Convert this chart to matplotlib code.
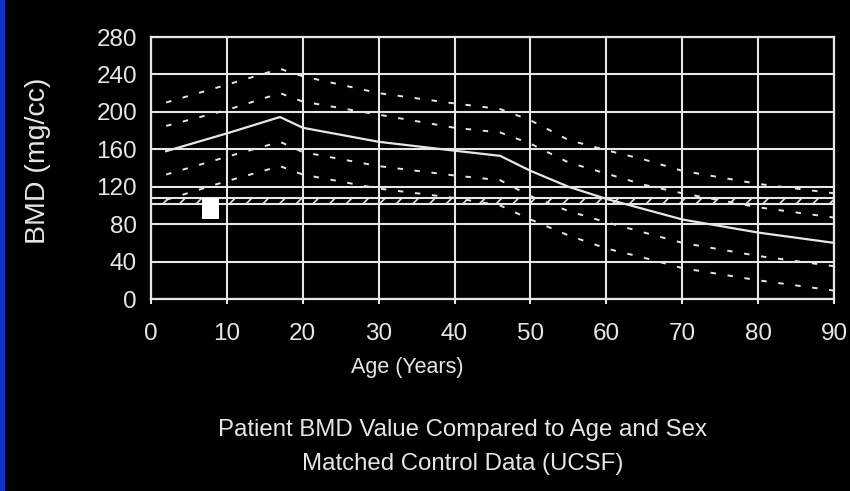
import matplotlib
matplotlib.use("Agg")
import matplotlib.pyplot as plt
from matplotlib.patches import Rectangle

# ---------------- data ----------------
ages = [2, 10, 17, 20, 30, 40, 46, 50, 55, 60, 65, 70, 80, 90]
bmd_mean = [158, 177, 194.5, 183, 168, 158.5, 153, 137, 120, 107, 96, 85, 71, 60]
bmd_plus1sd = [185, 202, 220, 211, 197, 183, 178, 166, 146, 134, 122, 113, 98, 87]
bmd_plus2sd = [210, 229, 246, 238, 220, 209, 203, 191, 170, 159, 149, 137, 123, 113]
bmd_minus1sd = [133, 152, 168, 157, 142, 132, 127, 110, 94, 82, 71, 60, 46, 35]
bmd_minus2sd = [106, 126, 142, 133, 118, 108, 100, 85, 68, 54, 44, 33, 20, 9]

threshold_band = [102, 108]          # hatched reference band (mg/cc)
patient_age = 7.8
patient_bmd_range = [85.5, 108]      # white patient marker extent

x_ticks = [0, 10, 20, 30, 40, 50, 60, 70, 80, 90]
y_ticks = [0, 40, 80, 120, 160, 200, 240, 280]

x_label = "Age (Years)"
y_label = "BMD (mg/cc)"
caption_1 = "Patient BMD Value Compared to Age and Sex"
caption_2 = "Matched Control Data (UCSF)"

plt.rcParams["font.family"] = ["Liberation Sans", "DejaVu Sans"]
plt.rcParams["hatch.linewidth"] = 1.2

FG = "#e6e6e6"

fig = plt.figure(figsize=(8.5, 4.91), dpi=100, facecolor="black")
ax = fig.add_axes([151 / 850, 1 - 299 / 491, (834 - 151) / 850, (299 - 37) / 491])
ax.set_facecolor("black")

# blue strip at far left
fig.patches.append(Rectangle((0, 0), 5 / 850, 1, transform=fig.transFigure,
                             facecolor="#1234c4", edgecolor="none", zorder=0))

ax.set_xlim(x_ticks[0], x_ticks[-1])
ax.set_ylim(y_ticks[0], y_ticks[-1])
ax.set_xticks(x_ticks)
ax.set_yticks(y_ticks)
ax.grid(True, color=FG, linewidth=1.5, zorder=1)
ax.set_axisbelow(True)

for s in ax.spines.values():
    s.set_color(FG)
    s.set_linewidth(1.6)

ax.tick_params(axis="x", colors=FG, length=3.5, width=1.5, direction="out",
               labelsize=17.5, pad=13.5)
ax.tick_params(axis="y", colors=FG, length=0, labelsize=17.5, pad=10)
for lbl in ax.get_xticklabels() + ax.get_yticklabels():
    lbl.set_color(FG)

# hatched band
ax.fill_between([x_ticks[0], x_ticks[-1]], threshold_band[0], threshold_band[1],
                facecolor="none", edgecolor=FG, hatch="//", linewidth=0, zorder=2)
ax.axhline(threshold_band[0], color=FG, linewidth=1.5, zorder=2)
ax.axhline(threshold_band[1], color=FG, linewidth=1.5, zorder=2)

# curves
dash = (0, (2.8, 6.0))
for series in (bmd_plus2sd, bmd_plus1sd, bmd_minus1sd, bmd_minus2sd):
    ax.plot(ages, series, color=FG, linewidth=1.4, linestyle=dash, zorder=3)
ax.plot(ages, bmd_mean, color=FG, linewidth=1.6, zorder=3)

# patient marker
ax.bar(patient_age, patient_bmd_range[1] - patient_bmd_range[0],
       bottom=patient_bmd_range[0], width=2.2, color="white", zorder=4)

# texts
fig.text(38 / 850, 1 - 161 / 491, y_label, rotation=90, ha="center", va="center",
         color=FG, fontsize=20.5)
fig.text(407 / 850, 1 - 367 / 491, x_label, ha="center", va="center",
         color=FG, fontsize=15.5)
fig.text(463 / 850, 1 - 430 / 491, caption_1, ha="center", va="center",
         color=FG, fontsize=17.3)
fig.text(463 / 850, 1 - 464 / 491, caption_2, ha="center", va="center",
         color=FG, fontsize=17.3)

fig.savefig("out.png", dpi=100, facecolor="black")
